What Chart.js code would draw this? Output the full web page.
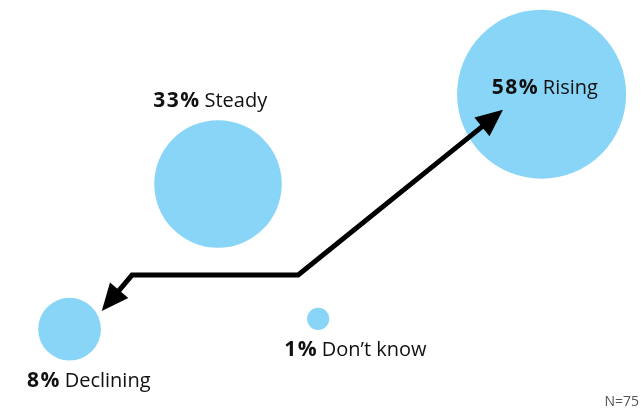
<!DOCTYPE html>
<html>
<head>
<meta charset="utf-8">
<script src="https://cdn.jsdelivr.net/npm/chart.js@4.4.1/dist/chart.umd.min.js"></script>
<style>
  html, body { margin: 0; padding: 0; background: #ffffff; }
  #wrap { width: 644px; height: 413px; position: relative; }
</style>
</head>
<body>
<div id="wrap"><canvas id="c" width="644" height="413"></canvas></div>
<script>
// ---- Data ----
const categories = ['Rising', 'Steady', 'Declining', "Don\u2019t know"];
const shares = [58, 33, 8, 1];            // percent of respondents
const bubbleX = [84.1, 33.85, 10.8, 49.4]; // bubble positions in the 0-100 layout space
const bubbleY = [77.2, 55.45, 20.3, 22.8];
const arrowX = [15.8, 20.5, 46.3, 78.1];  // arrow path (declining tip -> rising tip)
const arrowY = [24.7, 33.4, 33.4, 73.4];
const sampleNote = 'N=75';

// ---- Styling ----
const bubbleColor = '#88D5F7';
const radiusPerSqrtPct = 11.1;
const labelOffsets = [[4, -6], [-7, -83], [20, 52], [38, 31]];
const fontFamily = '"Open Sans", "Noto Sans", sans-serif';
const fontSize = 20;

const bubbleData = categories.map((c, i) => ({
  x: bubbleX[i], y: bubbleY[i], r: radiusPerSqrtPct * Math.sqrt(shares[i])
}));

const overlayPlugin = {
  id: 'overlay',
  afterDatasetsDraw(chart) {
    const ctx = chart.ctx;
    const xs = chart.scales.x, ys = chart.scales.y;
    const pts = arrowX.map((v, i) => ({ x: xs.getPixelForValue(v), y: ys.getPixelForValue(arrowY[i]) }));
    const headLen = 27, headHalf = 12, lw = 5;
    function shorten(tip, from) {
      const dx = from.x - tip.x, dy = from.y - tip.y;
      const d = Math.hypot(dx, dy);
      return { x: tip.x + dx / d * (headLen - 3), y: tip.y + dy / d * (headLen - 3) };
    }
    const path = pts.slice();
    path[0] = shorten(pts[0], pts[1]);
    path[path.length - 1] = shorten(pts[pts.length - 1], pts[pts.length - 2]);
    ctx.save();
    ctx.strokeStyle = '#000';
    ctx.lineWidth = lw;
    ctx.lineJoin = 'miter';
    ctx.lineCap = 'butt';
    ctx.beginPath();
    ctx.moveTo(path[0].x, path[0].y);
    for (let i = 1; i < path.length; i++) ctx.lineTo(path[i].x, path[i].y);
    ctx.stroke();
    function head(tip, from) {
      const dx = tip.x - from.x, dy = tip.y - from.y;
      const d = Math.hypot(dx, dy);
      const ux = dx / d, uy = dy / d;
      const bx = tip.x - ux * headLen, by = tip.y - uy * headLen;
      ctx.beginPath();
      ctx.moveTo(tip.x, tip.y);
      ctx.lineTo(bx - uy * headHalf, by + ux * headHalf);
      ctx.lineTo(bx + uy * headHalf, by - ux * headHalf);
      ctx.closePath();
      ctx.fillStyle = '#000';
      ctx.fill();
    }
    head(pts[0], pts[1]);
    head(pts[pts.length - 1], pts[pts.length - 2]);

    // labels
    ctx.textBaseline = 'middle';
    ctx.fillStyle = '#111';
    categories.forEach((c, i) => {
      const cx = xs.getPixelForValue(bubbleX[i]) + labelOffsets[i][0];
      const cy = ys.getPixelForValue(bubbleY[i]) + labelOffsets[i][1];
      const boldTxt = shares[i] + '%';
      const regTxt = ' ' + c;
      ctx.letterSpacing = '1.5px';
      ctx.font = 'bold ' + (fontSize + 1) + 'px ' + fontFamily;
      const wb = ctx.measureText(boldTxt).width;
      ctx.letterSpacing = '0px';
      ctx.font = fontSize + 'px ' + fontFamily;
      const wr = ctx.measureText(regTxt).width;
      let x0 = cx - (wb + wr) / 2;
      ctx.textAlign = 'left';
      ctx.letterSpacing = '1.5px';
      ctx.font = 'bold ' + (fontSize + 1) + 'px ' + fontFamily;
      ctx.fillText(boldTxt, x0, cy);
      ctx.letterSpacing = '0px';
      ctx.font = fontSize + 'px ' + fontFamily;
      ctx.fillText(regTxt, x0 + wb - 1.5, cy);
    });
    // sample size note
    ctx.font = '14px ' + fontFamily;
    ctx.fillStyle = '#555';
    ctx.textAlign = 'right';
    ctx.textBaseline = 'alphabetic';
    ctx.fillText(sampleNote, 639, 406);
    ctx.restore();
  }
};

new Chart(document.getElementById('c'), {
  type: 'bubble',
  data: {
    datasets: [{
      data: bubbleData,
      backgroundColor: bubbleColor,
      borderWidth: 0,
      hoverBorderWidth: 0,
      clip: false
    }]
  },
  options: {
    responsive: false,
    animation: false,
    events: [],
    layout: { padding: 0, autoPadding: false },
    plugins: { legend: { display: false }, tooltip: { enabled: false } },
    scales: {
      x: { type: 'linear', min: 0, max: 100, display: false },
      y: { type: 'linear', min: 0, max: 100, display: false }
    }
  },
  plugins: [overlayPlugin]
});
</script>
</body>
</html>
